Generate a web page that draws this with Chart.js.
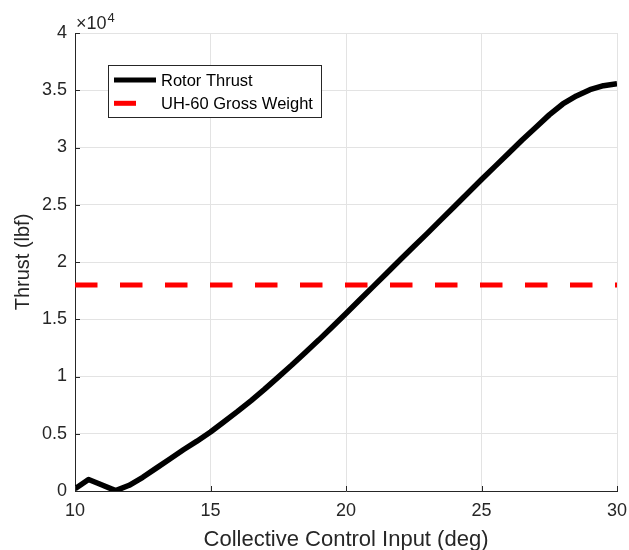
<!DOCTYPE html>
<html>
<head>
<meta charset="utf-8">
<script src="https://cdn.jsdelivr.net/npm/chart.js@4/dist/chart.umd.min.js"></script>
<style>
  html, body { margin: 0; padding: 0; background: #fff; }
  canvas { display: block; }
</style>
</head>
<body>
<canvas id="thrustChart" width="629" height="550"></canvas>
<script>
const collective = [10, 10.5, 11, 11.5, 12, 12.5, 13, 13.5, 14, 14.5, 15, 15.5, 16, 16.5, 17, 17.5, 18, 18.5, 19, 19.5, 20,
  20.5, 21, 21.5, 22, 22.5, 23, 23.5, 24, 24.5, 25, 25.5, 26, 26.5, 27, 27.5, 28, 28.5, 29, 29.5, 30];
const rotorThrust = [200, 1000, 520, 30, 500, 1200, 2000, 2800, 3600, 4350, 5150, 6050, 6950, 7900, 8900, 9950, 11000, 12100, 13200, 14350, 15500,
  16680, 17850, 19020, 20200, 21350, 22500, 23680, 24850, 26020, 27200, 28350, 29500, 30650, 31750, 32850, 33800, 34500, 35050, 35400, 35570];
const grossWeightX = [10, 30];
const grossWeight = [18000, 18000];

const xTicks = [10, 15, 20, 25, 30];
const xTickLabels = ['10', '15', '20', '25', '30'];
const yTicks = [0, 5000, 10000, 15000, 20000, 25000, 30000, 35000, 40000];
const yTickLabels = ['0', '0.5', '1', '1.5', '2', '2.5', '3', '3.5', '4'];

const FONT = "'Liberation Sans', Arial, Helvetica, sans-serif";
const AXIS = '#262626';

const toPoints = (xs, ys) => xs.map((x, i) => ({ x, y: ys[i] }));

// matlab style ticks point into the plot
const inwardTicks = {
  id: 'inwardTicks',
  afterDraw(chart) {
    const { ctx, chartArea: a, scales: { x, y } } = chart;
    ctx.save();
    ctx.strokeStyle = AXIS;
    ctx.lineWidth = 1;
    ctx.beginPath();
    xTicks.forEach((v) => {
      const px = Math.round(x.getPixelForValue(v)) + 0.5;
      ctx.moveTo(px, a.bottom);
      ctx.lineTo(px, a.bottom - 5);
    });
    yTicks.forEach((v) => {
      const py = Math.round(y.getPixelForValue(v)) + 0.5;
      ctx.moveTo(a.left, py);
      ctx.lineTo(a.left + 5, py);
    });
    ctx.stroke();
    ctx.restore();
  }
};

const exponentLabel = {
  id: 'exponentLabel',
  afterDraw(chart) {
    const { ctx, chartArea: a } = chart;
    ctx.save();
    ctx.fillStyle = AXIS;
    ctx.textBaseline = 'alphabetic';
    ctx.textAlign = 'left';
    ctx.font = `18px ${FONT}`;
    ctx.fillText('\u00d710', a.left + 1, a.top - 4);
    const w = ctx.measureText('\u00d710').width;
    ctx.font = `13px ${FONT}`;
    ctx.fillText('4', a.left + 2 + w, a.top - 11);
    ctx.restore();
  }
};

const legendBox = {
  id: 'legendBox',
  afterDraw(chart) {
    const { ctx } = chart;
    const box = { x: 108.5, y: 65.5, w: 213, h: 52 };
    ctx.save();
    ctx.fillStyle = '#fff';
    ctx.fillRect(box.x, box.y, box.w, box.h);
    ctx.strokeStyle = AXIS;
    ctx.lineWidth = 1;
    ctx.strokeRect(box.x, box.y, box.w, box.h);
    ctx.font = `16.5px ${FONT}`;
    ctx.textBaseline = 'middle';
    ctx.fillStyle = '#000';
    chart.data.datasets.forEach((ds, i) => {
      const cy = box.y + 14.5 + i * 23.3;
      ctx.strokeStyle = ds.borderColor;
      ctx.lineWidth = 5;
      ctx.beginPath();
      ctx.moveTo(114, cy);
      ctx.lineTo(i === 0 ? 156 : 136, cy);
      ctx.stroke();
      ctx.fillText(ds.label, 161, cy + 1);
    });
    ctx.restore();
  }
};

new Chart(document.getElementById('thrustChart'), {
  type: 'line',
  data: {
    datasets: [
      { label: 'Rotor Thrust', data: toPoints(collective, rotorThrust), borderColor: '#000', borderWidth: 5.5, pointRadius: 0, tension: 0, borderJoinStyle: 'round' },
      { label: 'UH-60 Gross Weight', data: toPoints(grossWeightX, grossWeight), borderColor: '#ff0000', borderWidth: 5, borderDash: [22.5, 22.5], pointRadius: 0, borderCapStyle: 'butt' }
    ]
  },
  options: {
    responsive: false,
    animation: false,
    devicePixelRatio: 1,
    layout: { padding: { top: 33, right: 12, left: 0, bottom: 0 } },
    plugins: { legend: { display: false }, tooltip: { enabled: false } },
    scales: {
      x: {
        type: 'linear',
        min: 10,
        max: 30,
        afterBuildTicks: (s) => { s.ticks = xTicks.map((v) => ({ value: v })); },
        afterFit: (s) => { s.height = 59; s.paddingLeft = 0; s.paddingRight = 0; },
        ticks: { callback: (v) => xTickLabels[xTicks.indexOf(v)] ?? '', color: AXIS, font: { family: FONT, size: 18 }, padding: 9, maxRotation: 0 },
        grid: { color: '#e3e3e3', drawTicks: false },
        border: { color: AXIS, width: 1 },
        title: { display: true, text: 'Collective Control Input (deg)', color: AXIS, font: { family: FONT, size: 22 }, padding: { top: 0, bottom: -3 } }
      },
      y: {
        type: 'linear',
        min: 0,
        max: 40000,
        afterBuildTicks: (s) => { s.ticks = yTicks.map((v) => ({ value: v })); },
        afterFit: (s) => { s.width = 75; },
        ticks: { callback: (v) => yTickLabels[yTicks.indexOf(v)] ?? '', color: AXIS, font: { family: FONT, size: 18 }, padding: 8 },
        grid: { color: '#e3e3e3', drawTicks: false },
        border: { color: AXIS, width: 1 },
        title: { display: true, text: 'Thrust (lbf)', color: AXIS, font: { family: FONT, size: 20 }, padding: { top: 11, bottom: 0 } }
      }
    }
  },
  plugins: [inwardTicks, exponentLabel, legendBox]
});
</script>
</body>
</html>
